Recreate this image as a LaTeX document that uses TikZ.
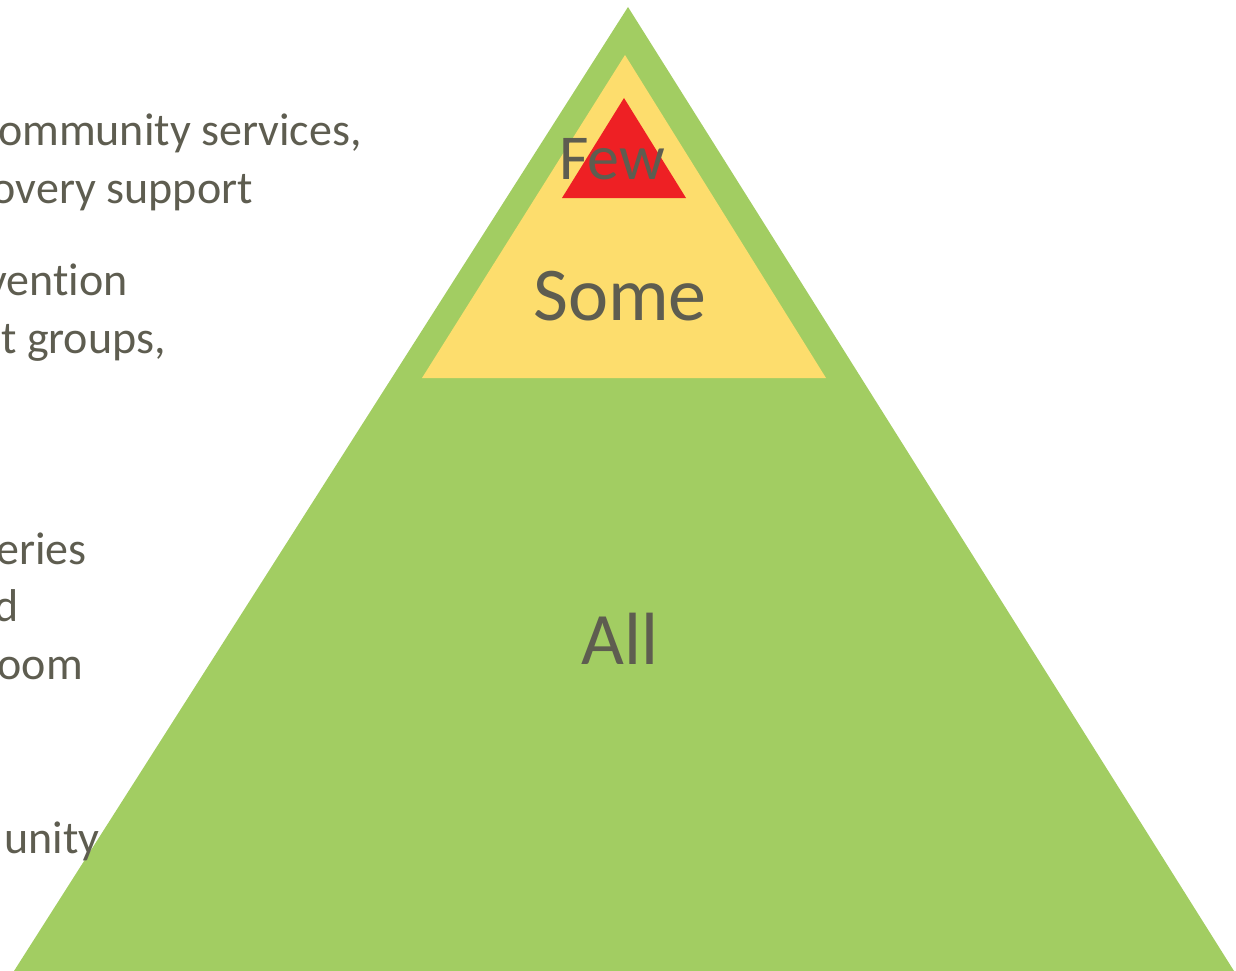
\documentclass[tikz,border=0pt]{standalone}
\usepackage{fontspec}
\setmainfont{Carlito}[Ligatures=NoCommon]
\usepackage{xcolor}
\definecolor{levelgreen}{HTML}{A2CD62}
\definecolor{levelyellow}{HTML}{FDDD6D}
\definecolor{levelred}{HTML}{EE2024}
\definecolor{textgray}{HTML}{5E5D50}

\begin{document}
\begin{tikzpicture}[
  x=1pt, y=-1pt,
  side/.style={anchor=base east, inner sep=0pt, text=textgray, font=\fontsize{46}{56}\selectfont},
  level/.style={anchor=base, inner sep=0pt, text=textgray}
]
\clip (0,0) rectangle (1236,971);
\useasboundingbox (0,0) rectangle (1236,971);

% Pyramid
\fill[levelgreen] (14,971) -- (628,7) -- (1234,971) -- cycle;
\fill[levelyellow] (422,378) -- (625,55) -- (826,378) -- cycle;
\fill[levelred] (562,198) -- (624,98) -- (686,198) -- cycle;

% Left side text (cut off)
\node[side] (s1) at (362,146) {ommunity services,};
\node[side] (s2) at (253,203) {overy support};
\node[side] (s3) at (128,295) {vention};
\node[side] (s4) at (166,353) {t groups,};
\node[side] (s5) at (87,564) {eries};
\node[side] (s6) at (19,621) {d};
\node[side] (s7) at (83,679) {oom};
\node[side] (s8) at (100,853) {unity};

% Levels
\node[level, font=\fontsize{64}{70}\selectfont] (few) at (612,179) {Few};
\node[level, font=\fontsize{76}{80}\selectfont] (some) at (620,320) {Some};
\node[level, font=\fontsize{74}{80}\selectfont] (all) at (620,664) {All};

\end{tikzpicture}
\end{document}
